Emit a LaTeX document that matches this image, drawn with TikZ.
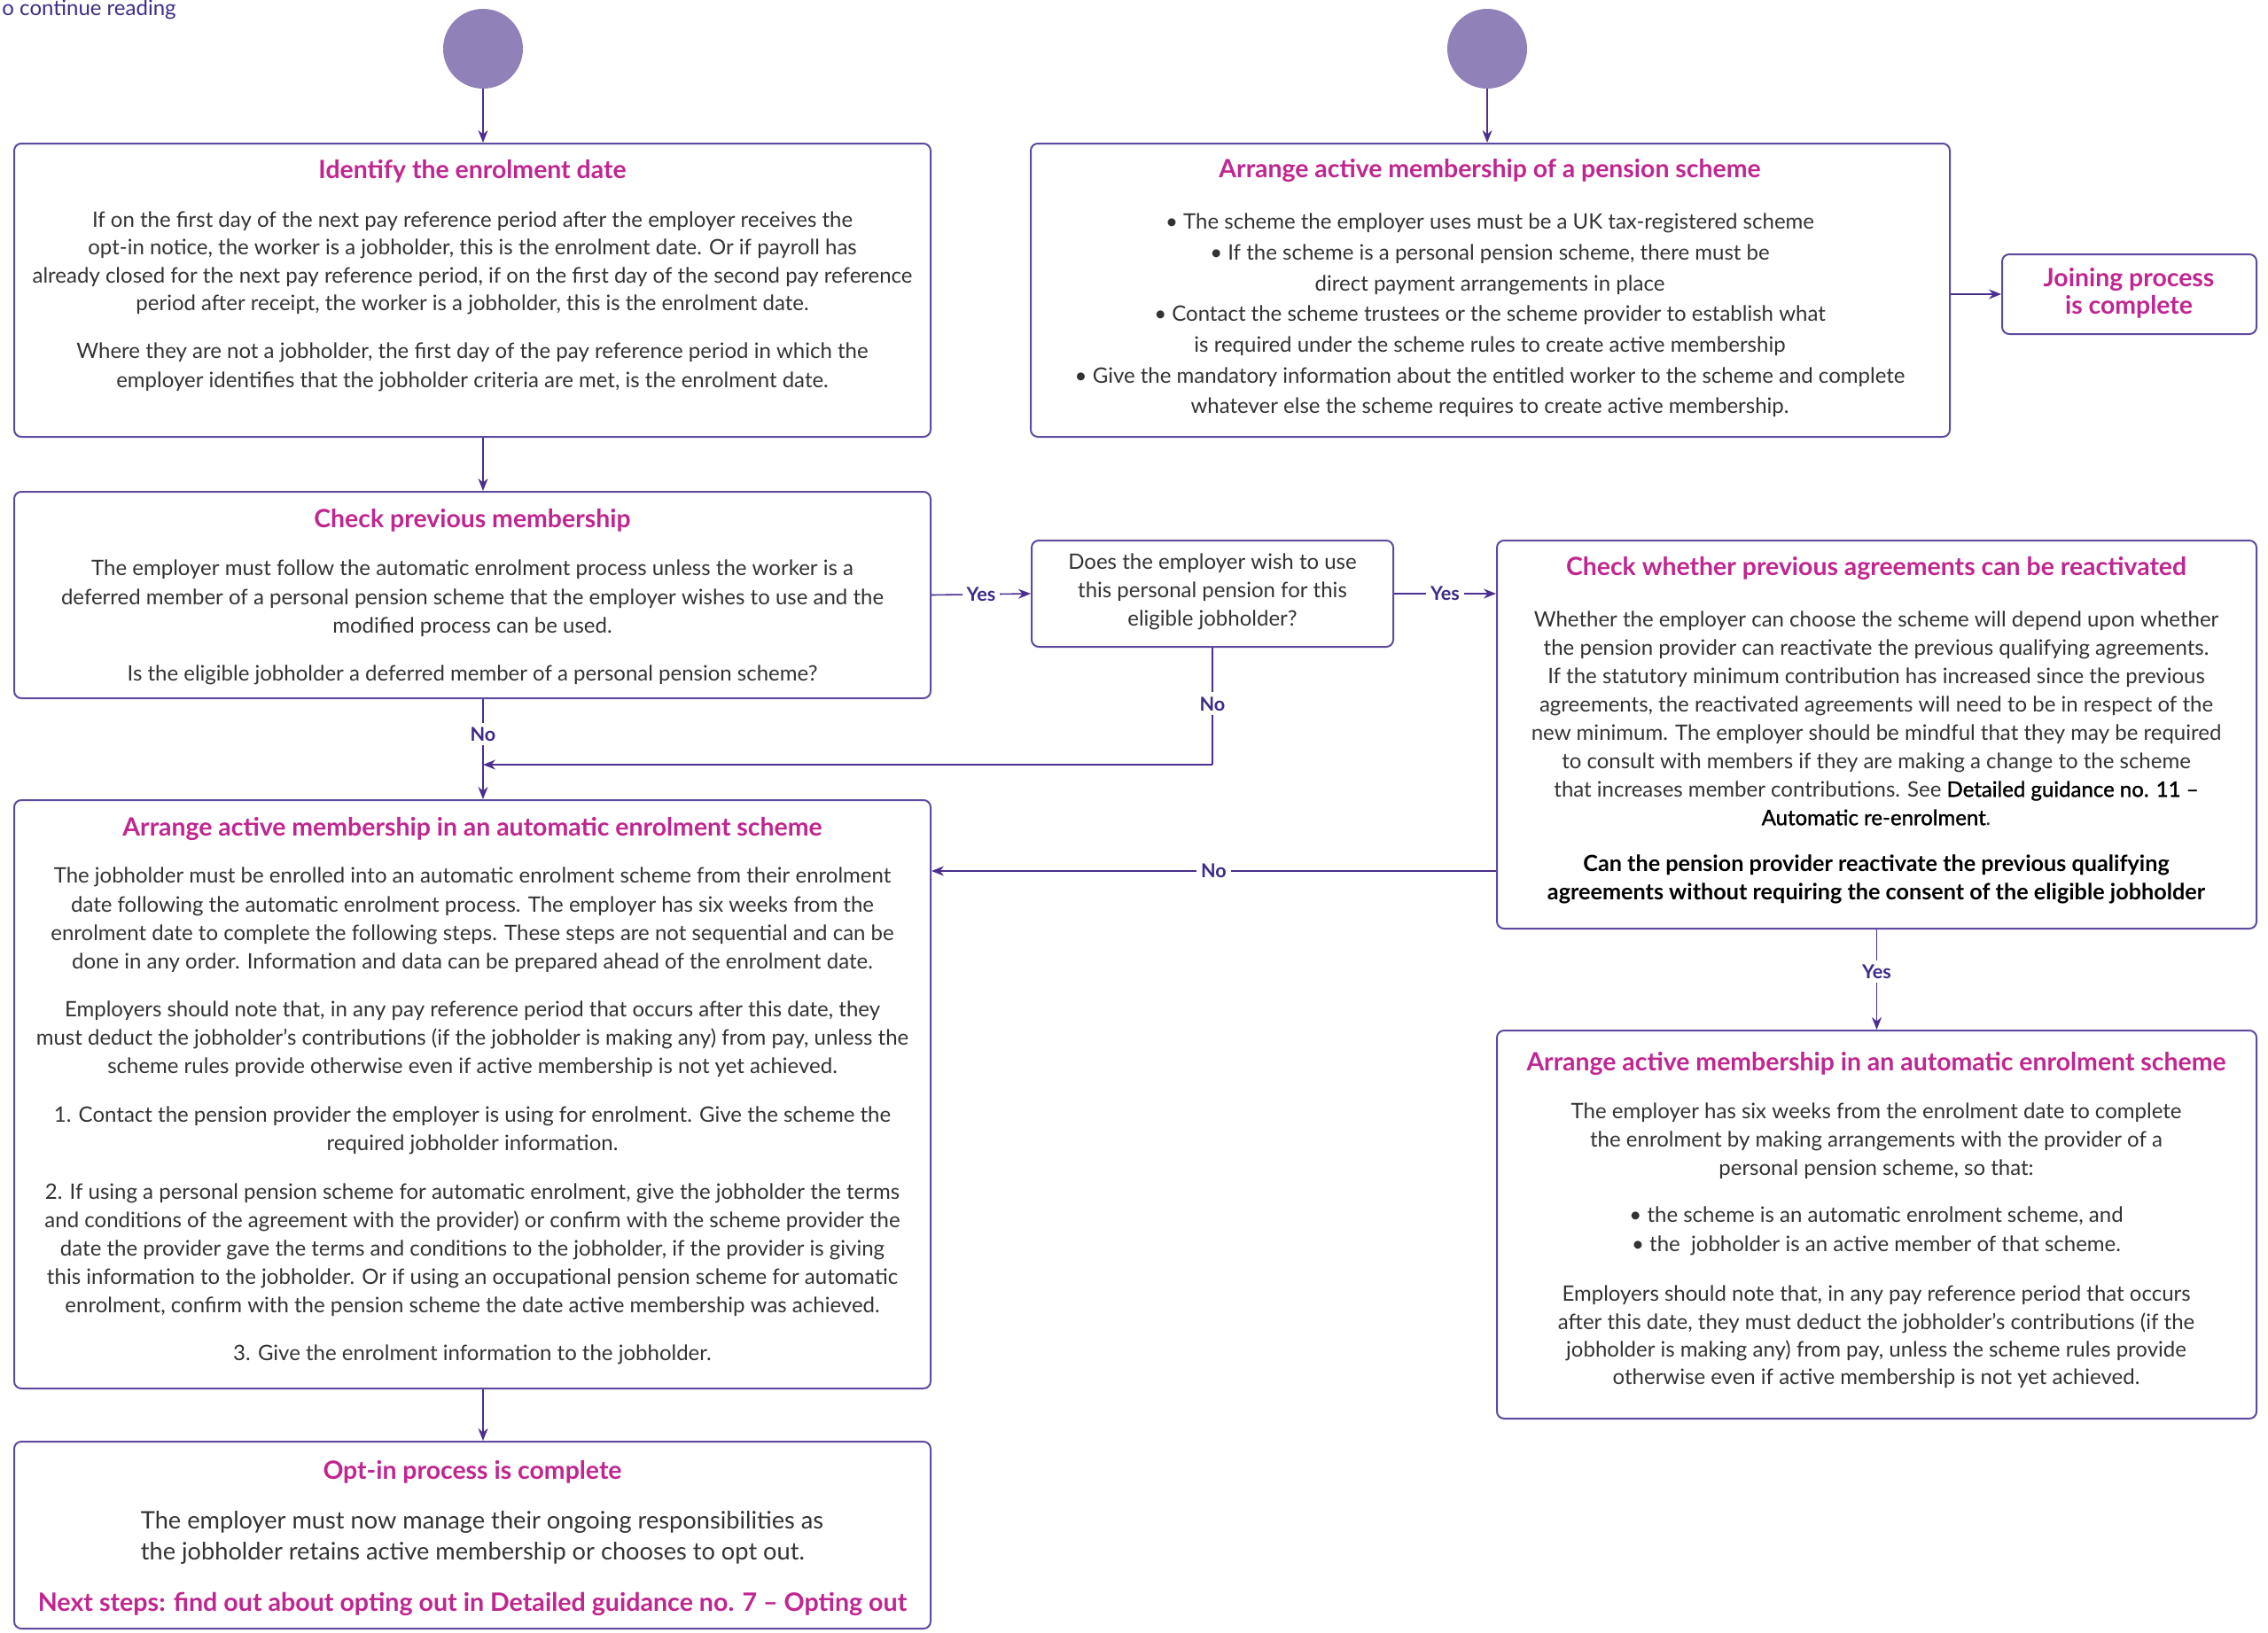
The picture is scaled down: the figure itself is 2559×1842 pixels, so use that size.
\documentclass[tikz,border=0pt]{standalone}
\usepackage{fontspec}
\setmainfont{Lato}
\newfontfamily\medfont[FakeBold=1.2]{Lato}
\usetikzlibrary{arrows.meta,fit}
\definecolor{pbox}{HTML}{5E4A9E}
\definecolor{pline}{HTML}{4B2E8E}
\definecolor{pcirc}{HTML}{9181B9}
\definecolor{mag}{HTML}{C0268F}
\definecolor{btxt}{HTML}{333333}
\definecolor{lbl}{HTML}{3E2A87}
\begin{document}
\begin{tikzpicture}[x=0.5pt,y=-0.5pt,
  box/.style={draw=pbox, line width=1pt, rounded corners=4pt, inner sep=0pt},
  circ/.style={circle, fill=pcirc, minimum size=45pt, inner sep=0pt},
  conn/.style={draw=pline, line width=0.8pt, -{Stealth[length=7pt,width=5.5pt]}},
  plain/.style={draw=pline, line width=0.8pt},
  ttl/.style={text=mag, align=center, font=\fontsize{14.2}{15.5}\selectfont\bfseries, inner sep=0pt},
  body/.style={text=btxt, align=center, font=\fontsize{12}{#1}\selectfont, inner sep=0pt},
  lab/.style={text=lbl, font=\fontsize{10.8}{12}\selectfont\bfseries, fill=white, inner sep=2.5pt}]
\useasboundingbox (0,0) rectangle (2559,1842);

% continue reading
\node[anchor=east, text=lbl, font=\fontsize{12}{13}\selectfont, inner sep=0pt] (cont) at (199,11) {o continue reading};

% circles
\node[circ] (c1) at (545,55) {};
\node[circ] (c2) at (1678,55) {};

% boxes
\node[box, fit={(16,162) (1050,493)}] (b1) {};
\node[box, fit={(16,555) (1050,788)}] (b2) {};
\node[box, fit={(1164,610) (1572,730)}] (dec) {};
\node[box, fit={(16,903) (1050,1567)}] (b4) {};
\node[box, fit={(16,1627) (1050,1838)}] (b5) {};
\node[box, fit={(1163,162) (2200,493)}] (am) {};
\node[box, fit={(2259,287) (2546,377)}] (join) {};
\node[box, fit={(1689,610) (2546,1048)}] (cw) {};
\node[box, fit={(1689,1163) (2546,1601)}] (rae) {};

% ---- box 1
\node[ttl] (t1) at (533,193) {Identify the enrolment date};
\node[body=15.7pt] (p1a) at (533,297) {If on the first day of the next pay reference period after the employer receives the\\
opt-in notice, the worker is a jobholder, this is the enrolment date. Or if payroll has\\
already closed for the next pay reference period, if on the first day of the second pay reference\\
period after receipt, the worker is a jobholder, this is the enrolment date.};
\node[body=16.5pt] (p1b) at (533,414.5) {Where they are not a jobholder, the first day of the pay reference period in which the\\
employer identifies that the jobholder criteria are met, is the enrolment date.};

% ---- box AM
\node[ttl] (tam) at (1681,193) {Arrange active membership of a pension scheme};
\node[body=17.35pt] (pam) at (1681,356) {\textbullet\ The scheme the employer uses must be a UK tax-registered scheme\\
\textbullet\ If the scheme is a personal pension scheme, there must be\\
direct payment arrangements in place\\
\textbullet\ Contact the scheme trustees or the scheme provider to establish what\\
is required under the scheme rules to create active membership\\
\textbullet\ Give the mandatory information about the entitled worker to the scheme and complete\\
whatever else the scheme requires to create active membership.};

% ---- joining
\node[ttl, font=\fontsize{14.2}{15.8}\selectfont\bfseries] (tjoin) at (2402,331) {Joining process\\is complete};

% ---- box 2
\node[ttl] (t2) at (533,587) {Check previous membership};
\node[body=16.25pt] (p2a) at (533,675.5) {The employer must follow the automatic enrolment process unless the worker is a\\
deferred member of a personal pension scheme that the employer wishes to use and the\\
modified process can be used.};
\node[body=16pt] (p2b) at (533,762) {Is the eligible jobholder a deferred member of a personal pension scheme?};

% ---- decision
\node[body=16pt] (pdec) at (1368,668) {Does the employer wish to use\\this personal pension for this\\eligible jobholder?};

% ---- check whether
\node[ttl] (tcw) at (2117,641) {Check whether previous agreements can be reactivated};
\node[body=16pt] (pcwa) at (2117,810.5) {Whether the employer can choose the scheme will depend upon whether\\
the pension provider can reactivate the previous qualifying agreements.\\
If the statutory minimum contribution has increased since the previous\\
agreements, the reactivated agreements will need to be in respect of the\\
new minimum. The employer should be mindful that they may be required\\
to consult with members if they are making a change to the scheme\\
that increases member contributions. See {\medfont\color{black}Detailed guidance no. 11 –}\\
{\medfont\color{black}Automatic re-enrolment}.};
\node[body=16pt, text=black, font=\fontsize{12.6}{16}\selectfont\bfseries] (pcwb) at (2117,992) {Can the pension provider reactivate the previous qualifying\\
agreements without requiring the consent of the eligible jobholder};

% ---- box 4
\node[ttl] (t4) at (533,935) {Arrange active membership in an automatic enrolment scheme};
\node[body=16.15pt] (p4a) at (533,1038.5) {The jobholder must be enrolled into an automatic enrolment scheme from their enrolment\\
date following the automatic enrolment process. The employer has six weeks from the\\
enrolment date to complete the following steps. These steps are not sequential and can be\\
done in any order. Information and data can be prepared ahead of the enrolment date.};
\node[body=16pt] (p4b) at (533,1173) {Employers should note that, in any pay reference period that occurs after this date, they\\
must deduct the jobholder’s contributions (if the jobholder is making any) from pay, unless the\\
scheme rules provide otherwise even if active membership is not yet achieved.};
\node[body=16pt] (p4c) at (533,1276) {1. Contact the pension provider the employer is using for enrolment. Give the scheme the\\
required jobholder information.};
\node[body=16pt] (p4d) at (533,1411) {2. If using a personal pension scheme for automatic enrolment, give the jobholder the terms\\
and conditions of the agreement with the provider) or confirm with the scheme provider the\\
date the provider gave the terms and conditions to the jobholder, if the provider is giving\\
this information to the jobholder. Or if using an occupational pension scheme for automatic\\
enrolment, confirm with the pension scheme the date active membership was achieved.};
\node[body=16pt] (p4e) at (533,1529) {3. Give the enrolment information to the jobholder.};

% ---- box 5
\node[ttl] (t5) at (533,1661) {Opt-in process is complete};
\node[body=17.5pt, align=left, font=\fontsize{13.6}{17.5}\selectfont] (p5) at (544,1735.5) {The employer must now manage their ongoing responsibilities as\\
the jobholder retains active membership or chooses to opt out.};
\node[ttl, font=\fontsize{14.3}{15.5}\selectfont\bfseries] (n5) at (533,1810) {Next steps: find out about opting out in Detailed guidance no. 7 – Opting out};

% ---- right AE
\node[ttl] (trae) at (2117,1200) {Arrange active membership in an automatic enrolment scheme};
\node[body=16pt] (prea) at (2117,1288) {The employer has six weeks from the enrolment date to complete\\
the enrolment by making arrangements with the provider of a\\
personal pension scheme, so that:};
\node[body=16.5pt] (preb) at (2117,1389.5) {\textbullet\ the scheme is an automatic enrolment scheme, and\\
\textbullet\ the\ \ jobholder is an active member of that scheme.};
\node[body=15.7pt] (prec) at (2117,1509) {Employers should note that, in any pay reference period that occurs\\
after this date, they must deduct the jobholder’s contributions (if the\\
jobholder is making any) from pay, unless the scheme rules provide\\
otherwise even if active membership is not yet achieved.};

% ---- connectors
\coordinate (merge) at (545,863);
\coordinate (nolvl) at (0,983);
\draw[conn] (c1.south) -- (c1.south |- b1.north);
\draw[conn] (c2.south) -- (c2.south |- am.north);
\draw[conn] (b1.south -| c1) -- (b2.north -| c1);
\draw[conn] (b2.south -| c1) -- node[lab, pos=0.35] {No} (b4.north -| c1);
\draw[conn] (b2.east) -- node[lab] {Yes} (dec.west);
\draw[conn] (dec.east) -- node[lab] {Yes} (cw.west |- dec.east);
\draw[plain] (dec.south) -- node[lab, pos=0.48] {No} (dec.south |- merge);
\draw[conn] (dec.south |- merge) -- (merge);
\draw[conn] (cw.west |- nolvl) -- node[lab] {No} (b4.east |- nolvl);
\draw[conn] (cw.south) -- node[lab, pos=0.42] {Yes} (rae.north);
\draw[conn] (b4.south -| c1) -- (b5.north -| c1);
\draw[conn] (am.east |- join.west) -- (join.west);
\end{tikzpicture}
\end{document}
